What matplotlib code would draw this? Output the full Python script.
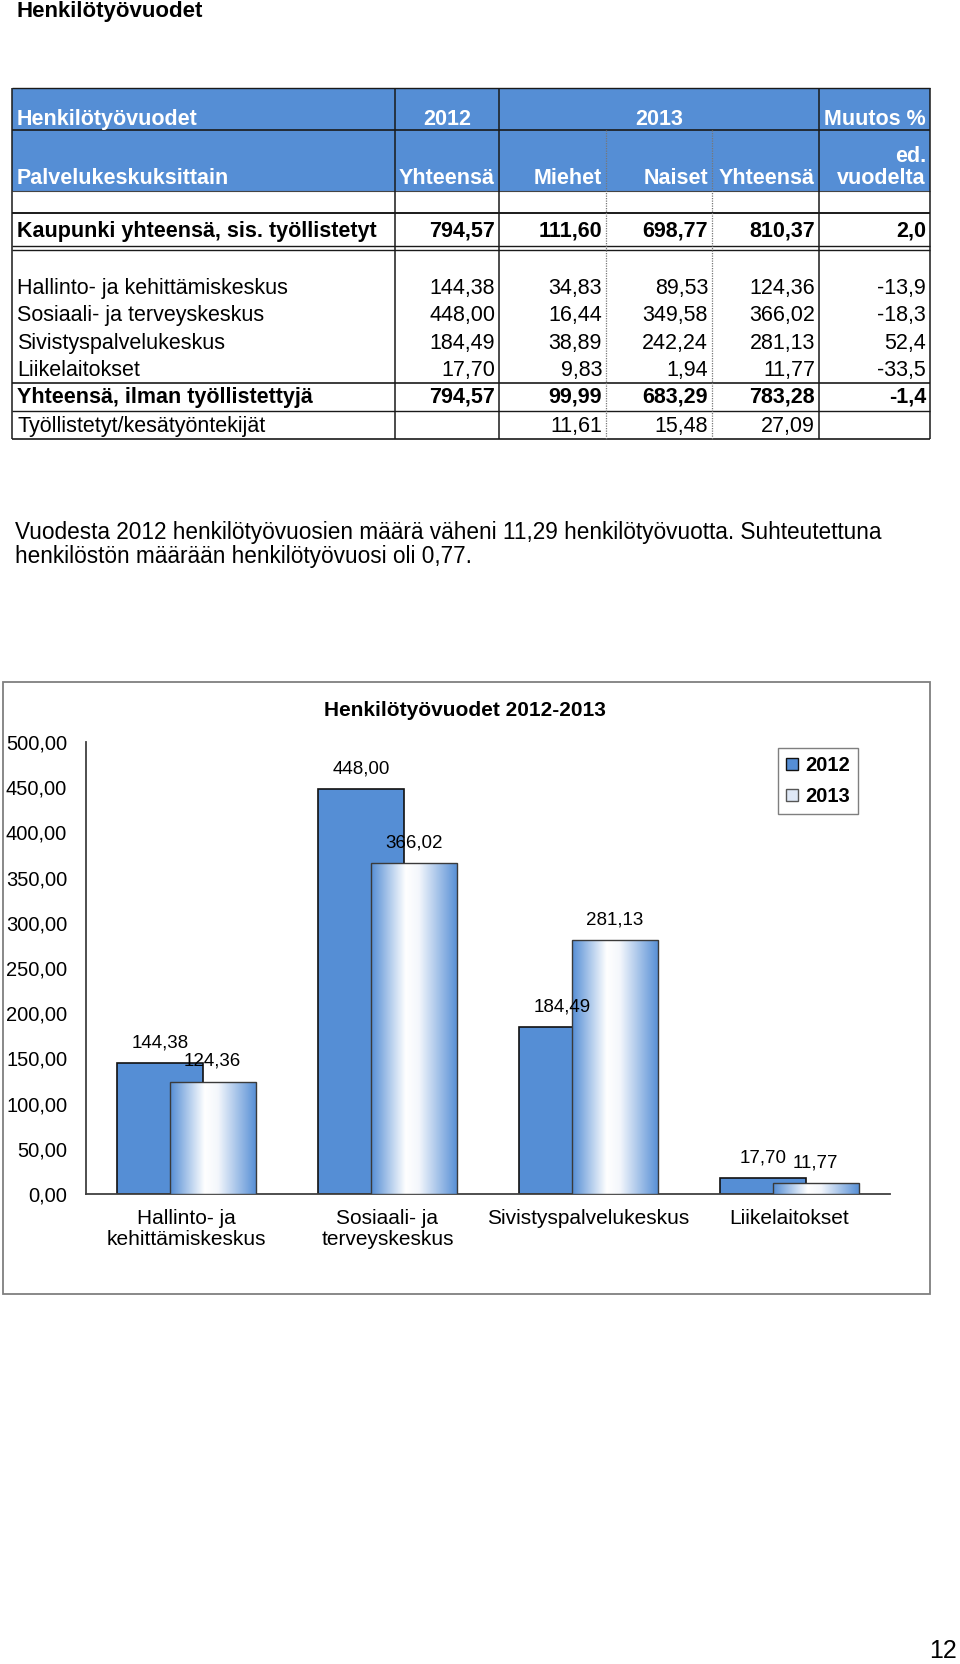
import matplotlib
matplotlib.use('Agg')
import matplotlib.pyplot as plt
import numpy as np
from matplotlib.patches import Rectangle, Patch
from matplotlib.colors import LinearSegmentedColormap
from matplotlib.ticker import FuncFormatter

# ---------------- data ----------------
page_title = "Henkilötyövuodet"
header_row1 = ["Henkilötyövuodet", "2012", "2013", "Muutos %"]
header_row2 = ["Palvelukeskuksittain", "Yhteensä", "Miehet", "Naiset", "Yhteensä", "ed.", "vuodelta"]
city_label = "Kaupunki yhteensä, sis. työllistetyt"
city_values = [794.57, 111.60, 698.77, 810.37, 2.0]
units = ["Hallinto- ja kehittämiskeskus", "Sosiaali- ja terveyskeskus",
         "Sivistyspalvelukeskus", "Liikelaitokset"]
total_2012 = [144.38, 448.00, 184.49, 17.70]
men_2013 = [34.83, 16.44, 38.89, 9.83]
women_2013 = [89.53, 349.58, 242.24, 1.94]
total_2013 = [124.36, 366.02, 281.13, 11.77]
change_pct = [-13.9, -18.3, 52.4, -33.5]
sum_label = "Yhteensä, ilman työllistettyjä"
sum_values = [794.57, 99.99, 683.29, 783.28, -1.4]
employed_label = "Työllistetyt/kesätyöntekijät"
employed_values = [None, 11.61, 15.48, 27.09, None]
paragraph = ["Vuodesta 2012 henkilötyövuosien määrä väheni 11,29 henkilötyövuotta. Suhteutettuna",
             "henkilöstön määrään henkilötyövuosi oli 0,77."]
chart_title = "Henkilötyövuodet 2012-2013"
chart_categories = ["Hallinto- ja\nkehittämiskeskus", "Sosiaali- ja\nterveyskeskus",
                    "Sivistyspalvelukeskus", "Liikelaitokset"]
series_names = ["2012", "2013"]
y_ticks = [0, 50, 100, 150, 200, 250, 300, 350, 400, 450, 500]
page_number = "12"

# ---------------- helpers ----------------
def fi(v, d=2):
    if v is None:
        return ""
    return f"{v:.{d}f}".replace('.', ',')

FONT = 'Liberation Sans'
BLUE = '#558ed5'
W, H = 960, 1664
fig = plt.figure(figsize=(W / 100, H / 100), dpi=100)
fig.patch.set_facecolor('white')
pg = fig.add_axes([0, 0, 1, 1])
pg.set_xlim(0, W)
pg.set_ylim(H, 0)
pg.axis('off')

def hline(y, x0=12, x1=930, lw=1.0, color='#1a1a1a', ls='-'):
    pg.plot([x0, x1], [y, y], color=color, lw=lw, ls=ls, solid_capstyle='butt', zorder=3)

def vline(x, y0, y1, lw=1.0, color='#1a1a1a', ls='-'):
    pg.plot([x, x], [y0, y1], color=color, lw=lw, ls=ls, solid_capstyle='butt', zorder=3)

def txt(x, y, s, ha='left', size=15.5, weight='normal', color='black', family=FONT, va='baseline'):
    pg.text(x, y, s, ha=ha, va=va, fontsize=size, fontweight=weight,
            color=color, family=family)

# ---------------- page title ----------------
txt(16, 17, page_title, size=16, weight='bold')

# ---------------- table ----------------
cols = [12, 395, 499, 606, 712, 819, 930]
top, blue_bot, bottom = 88, 191, 439
pg.add_patch(Rectangle((cols[0], top), cols[-1] - cols[0], blue_bot - top,
                       facecolor=BLUE, edgecolor='none', zorder=1))
hline(top, lw=1.0)
hline(130, lw=1.2)
hline(blue_bot, lw=0.8, color='#444444')
hline(213, lw=1.4)
hline(246, lw=1.0)
hline(250, lw=1.0)
hline(383, lw=1.2)
hline(411, lw=1.0)
hline(bottom, lw=1.2)
for x in [cols[0], cols[1], cols[2], cols[5], cols[6]]:
    vline(x, top, bottom, lw=1.1)
for x in [cols[3], cols[4]]:
    vline(x, 130, bottom, lw=0.9, color='#777777', ls=(0, (1, 1)))

HS = 15.5
HW = 'bold'
y1, y2, yed = 125, 184, 162
txt(17, y1, header_row1[0], size=HS, weight=HW, color='white')
txt((cols[1] + cols[2]) / 2, y1, header_row1[1], ha='center', size=HS, weight=HW, color='white')
txt((cols[2] + cols[5]) / 2, y1, header_row1[2], ha='center', size=HS, weight=HW, color='white')
txt(cols[6] - 4, y1, header_row1[3], ha='right', size=HS, weight=HW, color='white')
txt(17, y2, header_row2[0], size=HS, weight=HW, color='white')
for i, s in enumerate(header_row2[1:5]):
    txt(cols[i + 2] - 4, y2, s, ha='right', size=HS, weight=HW, color='white')
txt(cols[6] - 4, yed, header_row2[5], ha='right', size=HS, weight=HW, color='white')
txt(cols[6] - 4, y2, header_row2[6], ha='right', size=HS, weight=HW, color='white')

def table_row(y, label, vals, weight='normal'):
    txt(17, y, label, weight=weight)
    for i, v in enumerate(vals):
        d = 1 if i == 4 else 2
        txt(cols[i + 2] - 4, y, fi(v, d), ha='right', weight=weight)

table_row(237, city_label, city_values, weight='bold')
row_y = [294, 321, 349, 376]
for i, u in enumerate(units):
    table_row(row_y[i], u, [total_2012[i], men_2013[i], women_2013[i], total_2013[i], change_pct[i]])
table_row(403, sum_label, sum_values, weight='bold')
table_row(432, employed_label, employed_values)

# ---------------- paragraph ----------------
txt(15, 539, paragraph[0], size=16.3)
txt(15, 563, paragraph[1], size=16.3)

# ---------------- chart ----------------
pg.add_patch(Rectangle((3, 682), 927, 612, facecolor='none', edgecolor='#7f7f7f', lw=1.3, zorder=2))
txt(465, 711, chart_title, ha='center', size=15, weight='bold', va='center')

ax_l, ax_r, ax_b, ax_t = 86, 890, 1194, 742
ax = fig.add_axes([ax_l / W, (H - ax_b) / H, (ax_r - ax_l) / W, (ax_b - ax_t) / H])
ax.patch.set_alpha(0)
x = np.arange(len(chart_categories))
bw, off = 0.428, 0.13

b12 = ax.bar(x - off, total_2012, width=bw, color=BLUE, edgecolor='#111111', linewidth=1.2, zorder=2)
b13 = ax.bar(x + off, total_2013, width=bw, color='none', edgecolor='#3a3a3a', linewidth=1.0, zorder=4)

grad = LinearSegmentedColormap.from_list('g', [(0, BLUE), (0.4, 'white'), (0.55, '#f4f7fc'), (1.0, BLUE)])
gimg = np.linspace(0, 1, 256).reshape(1, -1)
for rect in b13:
    x0, y0 = rect.get_x(), rect.get_y()
    w, h = rect.get_width(), rect.get_height()
    im = ax.imshow(gimg, extent=[x0, x0 + w, y0, y0 + h], aspect='auto', cmap=grad,
                   interpolation='bicubic', zorder=3, origin='lower')
    clip = Rectangle((x0, y0), w, h, transform=ax.transData)
    im.set_clip_path(clip)

ax.set_xlim(-0.5, len(chart_categories) - 0.5)
ax.set_ylim(0, 500)
ax.set_yticks(y_ticks)
ax.yaxis.set_major_formatter(FuncFormatter(lambda v, p: fi(v, 2)))
ax.set_xticks(x)
ax.set_xticklabels(chart_categories, fontsize=15, family=FONT, linespacing=1.15)
for lab in ax.get_yticklabels():
    lab.set_fontsize(14.5)
    lab.set_family(FONT)
ax.tick_params(axis='y', length=0, pad=13.5)
ax.tick_params(axis='x', length=0, pad=10.5)
for s in ['top', 'right']:
    ax.spines[s].set_visible(False)
for s in ['left', 'bottom']:
    ax.spines[s].set_color('#404040')
    ax.spines[s].set_linewidth(1.3)

for rect, v in zip(b12, total_2012):
    ax.annotate(fi(v), (rect.get_x() + rect.get_width() / 2, v), xytext=(0, 14.5),
                textcoords='offset points', ha='center', va='center', fontsize=13.5,
                family=FONT, zorder=6)
for rect, v in zip(b13, total_2013):
    ax.annotate(fi(v), (rect.get_x() + rect.get_width() / 2, v), xytext=(0, 14.5),
                textcoords='offset points', ha='center', va='center', fontsize=13.5,
                family=FONT, zorder=6)

handles = [Patch(facecolor=BLUE, edgecolor='#111111', linewidth=1.0),
           Patch(facecolor='#dfe8f6', edgecolor='#555555', linewidth=1.0)]
leg = ax.legend(handles, series_names, loc='upper left',
                bbox_to_anchor=(778 / W, 1 - 748 / H), bbox_transform=fig.transFigure,
                borderaxespad=0,
                prop={'family': FONT, 'size': 14.5, 'weight': 'bold'},
                handlelength=0.6, handleheight=0.6, handletextpad=0.35,
                borderpad=0.4, labelspacing=0.6, fancybox=False, framealpha=1,
                edgecolor='#7f7f7f')
leg.get_frame().set_linewidth(1.0)

# ---------------- page number ----------------
txt(957, 1651, page_number, ha='right', size=18, va='center')

fig.savefig('out.png', dpi=100, facecolor='white')
